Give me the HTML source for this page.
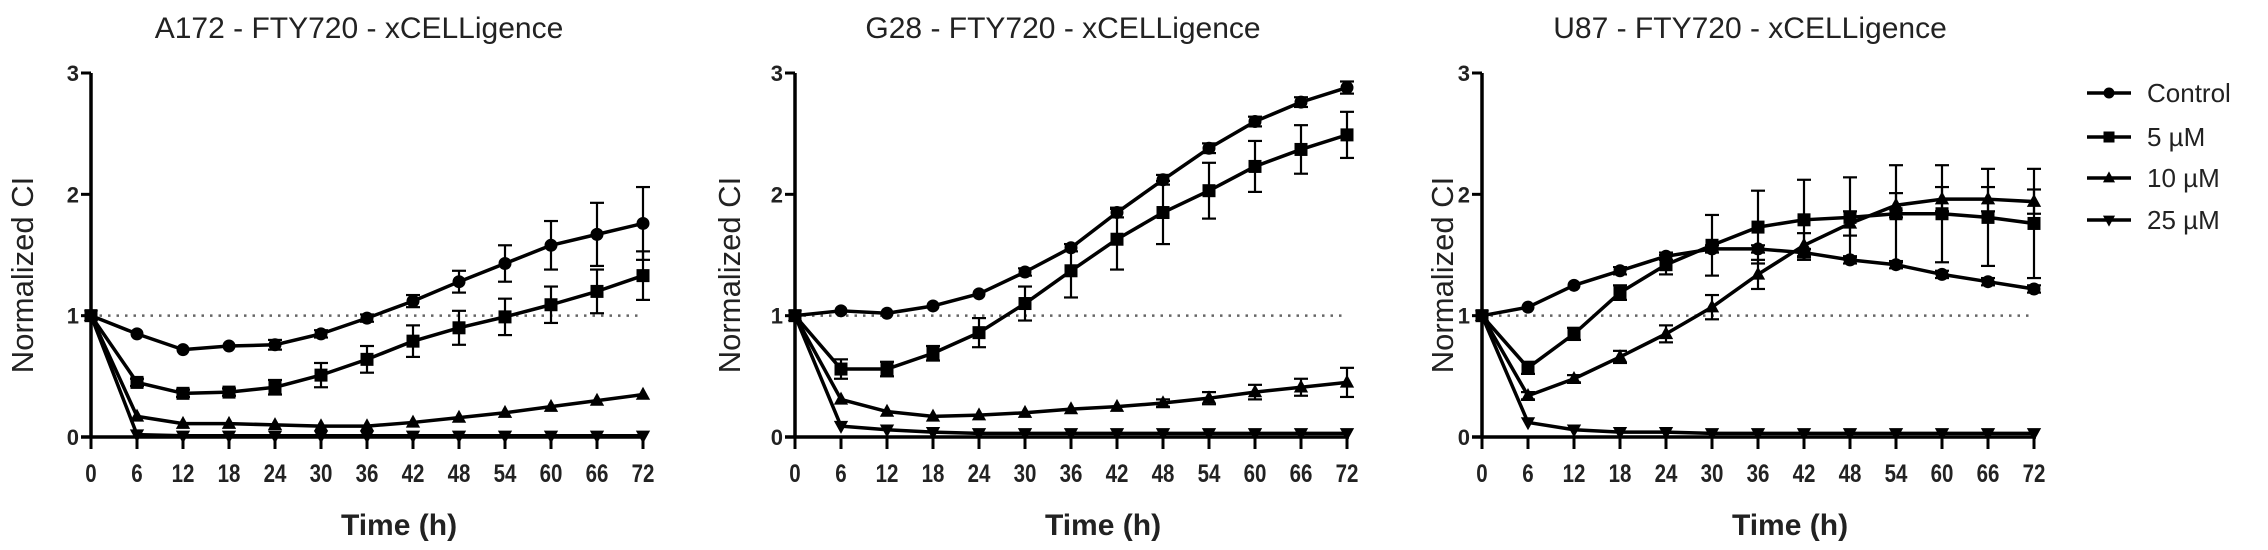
<!DOCTYPE html>
<html><head><meta charset="utf-8">
<style>
html,body{margin:0;padding:0;background:#fff;}
svg{display:block;font-family:"Liberation Sans",Arial,sans-serif;}
</style></head>
<body>
<svg id="chart" width="2268" height="550" viewBox="0 0 2268 550" xmlns="http://www.w3.org/2000/svg"></svg>
<script>
const hours = [0,6,12,18,24,30,36,42,48,54,60,66,72];
const yTicks = [0,1,2,3];
const seriesNames = ["Control","5 µM","10 µM","25 µM"];
const markerTypes = ["circle","square","triangle","invtriangle"];
const panelTitles = ["A172 - FTY720 - xCELLigence","G28 - FTY720 - xCELLigence","U87 - FTY720 - xCELLigence"];

const a172Control = [1,0.85,0.72,0.75,0.76,0.85,0.98,1.12,1.28,1.43,1.58,1.67,1.76];
const a172Control_err = [0,0.02,0.02,0.02,0.04,0.03,0.03,0.05,0.09,0.15,0.2,0.26,0.3];
const a172_5 = [1,0.45,0.36,0.37,0.41,0.51,0.64,0.79,0.90,0.99,1.09,1.20,1.33];
const a172_5_err = [0,0.03,0.03,0.03,0.06,0.1,0.11,0.13,0.14,0.15,0.15,0.18,0.2];
const a172_10 = [1,0.17,0.11,0.11,0.10,0.09,0.09,0.12,0.16,0.20,0.25,0.30,0.35];
const a172_10_err = [0,0.02,0.02,0.02,0.02,0.02,0.02,0.02,0.02,0.02,0.02,0.02,0.02];
const a172_25 = [1,0.02,0.01,0.01,0.01,0.01,0.01,0.01,0.01,0.01,0.01,0.01,0.01];
const a172_25_err = [0,0,0,0,0,0,0,0,0,0,0,0,0];

const g28Control = [1,1.04,1.02,1.08,1.18,1.36,1.56,1.85,2.12,2.38,2.60,2.76,2.88];
const g28Control_err = [0,0.02,0.02,0.02,0.02,0.03,0.03,0.04,0.04,0.04,0.04,0.04,0.05];
const g28_5 = [1,0.56,0.56,0.69,0.86,1.10,1.37,1.63,1.85,2.03,2.23,2.37,2.49];
const g28_5_err = [0,0.08,0.06,0.06,0.12,0.14,0.22,0.25,0.26,0.23,0.21,0.2,0.19];
const g28_10 = [1,0.31,0.21,0.17,0.18,0.20,0.23,0.25,0.28,0.32,0.37,0.41,0.45];
const g28_10_err = [0,0.02,0.02,0.02,0.02,0.02,0.02,0.02,0.03,0.05,0.06,0.07,0.12];
const g28_25 = [1,0.09,0.06,0.04,0.03,0.03,0.03,0.03,0.03,0.03,0.03,0.03,0.03];
const g28_25_err = [0,0.01,0.01,0.01,0.01,0.01,0.01,0.01,0.01,0.01,0.01,0.01,0.01];

const u87Control = [1,1.07,1.25,1.37,1.49,1.55,1.55,1.52,1.46,1.42,1.34,1.28,1.22];
const u87Control_err = [0,0.02,0.02,0.03,0.03,0.03,0.03,0.03,0.03,0.03,0.03,0.03,0.03];
const u87_5 = [1,0.57,0.85,1.19,1.42,1.58,1.73,1.79,1.81,1.84,1.84,1.81,1.76];
const u87_5_err = [0,0.05,0.05,0.06,0.08,0.25,0.3,0.33,0.33,0.4,0.4,0.4,0.45];
const u87_10 = [1,0.34,0.48,0.66,0.85,1.07,1.34,1.58,1.76,1.91,1.96,1.96,1.94];
const u87_10_err = [0,0.03,0.03,0.05,0.07,0.1,0.12,0.1,0.1,0.1,0.1,0.1,0.1];
const u87_25 = [1,0.12,0.06,0.04,0.04,0.03,0.03,0.03,0.03,0.03,0.03,0.03,0.03];
const u87_25_err = [0,0.01,0.01,0.01,0.01,0.01,0.01,0.01,0.01,0.01,0.01,0.01,0.01];

const panelData = [
  [[a172Control,a172Control_err],[a172_5,a172_5_err],[a172_10,a172_10_err],[a172_25,a172_25_err]],
  [[g28Control,g28Control_err],[g28_5,g28_5_err],[g28_10,g28_10_err],[g28_25,g28_25_err]],
  [[u87Control,u87Control_err],[u87_5,u87_5_err],[u87_10,u87_10_err],[u87_25,u87_25_err]]
];

const NS = "http://www.w3.org/2000/svg";
const svg = document.getElementById('chart');
function mk(tag, attrs, parent){
  const e = document.createElementNS(NS, tag);
  for (const k in attrs) e.setAttribute(k, attrs[k]);
  (parent||svg).appendChild(e);
  return e;
}
const panelX0 = [91, 795, 1482];
const panelW = 552;
const yTitleX = [25, 732, 1445];
const Y0 = 437, Y3 = 73;
function yScale(v){ return Y0 - (v/3)*(Y0-Y3); }

function marker(g, type, x, y, s){
  let el;
  if (type==="circle") el = mk('circle',{cx:x,cy:y,r:s},g);
  else if (type==="square") el = mk('rect',{x:x-s,y:y-s,width:2*s,height:2*s},g);
  else if (type==="triangle") el = mk('polygon',{points:`${x},${y-s*1.2} ${x-s*1.1},${y+s*0.8} ${x+s*1.1},${y+s*0.8}`},g);
  else el = mk('polygon',{points:`${x},${y+s*1.2} ${x-s*1.1},${y-s*0.8} ${x+s*1.1},${y-s*0.8}`},g);
  el.setAttribute('fill','#000');
  return el;
}

panelData.forEach((series, p) => {
  const x0 = panelX0[p];
  const xScale = h => x0 + h/72*panelW;
  const g = mk('g',{});
  
  

  const t = mk('text',{x:x0+panelW/2-8,y:38,'text-anchor':'middle','font-size':30,fill:'#222'},g);
  t.textContent = panelTitles[p];
  
  

  const yt = mk('text',{x:yTitleX[p],y:275,'text-anchor':'middle','font-size':31,fill:'#222',transform:`rotate(-90 ${yTitleX[p]} 275)`,'dominant-baseline':'middle'},g);
  yt.textContent = "Normalized CI";
  
  

  const xt = mk('text',{x:x0+panelW/2+32,y:535,'text-anchor':'middle','font-size':30,'font-weight':'bold',fill:'#222'},g);
  xt.textContent = "Time (h)";
  
  

  const ref = mk('line',{x1:x0,x2:xScale(72),y1:yScale(1),y2:yScale(1),stroke:'#666','stroke-width':2.5,'stroke-dasharray':'2.5 6'},g);
  
  

  const ya = mk('line',{x1:x0,x2:x0,y1:Y3,y2:Y0,stroke:'#000','stroke-width':3.5},g);
  
  
  const xa = mk('line',{x1:x0-10,x2:xScale(72)+2,y1:Y0,y2:Y0,stroke:'#000','stroke-width':3.5},g);
  
  

  yTicks.forEach(v => {
    const y = yScale(v);
    mk('line',{x1:x0-10,x2:x0,y1:y,y2:y,stroke:'#000','stroke-width':3},g);
    const tl = mk('text',{x:x0-12,y:y+8,'text-anchor':'end','font-size':22,'font-weight':'bold',fill:'#222'},g);
    tl.textContent = v;
    
    
  });
  hours.forEach(h => {
    const x = xScale(h);
    mk('line',{x1:x,x2:x,y1:Y0,y2:Y0+12,stroke:'#000','stroke-width':3},g);
    const tl = mk('text',{x:x,y:482,'text-anchor':'middle','font-size':25,'font-weight':'bold',fill:'#222',transform:`translate(${x} 0) scale(0.82 1) translate(${-x} 0)`},g);
    tl.textContent = h;
    
    
  });

  series.forEach((s, si) => {
    const vals = s[0], errs = s[1];
    const sg = mk('g',{},g);
    
    
    vals.forEach((v,i) => {
      if (errs[i] <= 0.02) return;
      const x = xScale(hours[i]);
      const yt = yScale(v+errs[i]), yb = yScale(Math.max(0,v-errs[i]));
      mk('line',{x1:x,x2:x,y1:yt,y2:yb,stroke:'#000','stroke-width':2.2},sg);
      mk('line',{x1:x-7,x2:x+7,y1:yt,y2:yt,stroke:'#000','stroke-width':2.2},sg);
      mk('line',{x1:x-7,x2:x+7,y1:yb,y2:yb,stroke:'#000','stroke-width':2.2},sg);
    });
    const pts = vals.map((v,i) => xScale(hours[i]) + ',' + yScale(v)).join(' ');
    const line = mk('polyline',{points:pts,fill:'none',stroke:'#000','stroke-width':3.5,'stroke-linejoin':'round'},sg);
    
    
    vals.forEach((v,i) => {
      const m = marker(sg, markerTypes[si], xScale(hours[i]), yScale(v), 6.5);
      
      
    });
  });
});

const lg = mk('g',{});


const legendY = [93,137,178,220];
seriesNames.forEach((n,i) => {
  const eg = mk('g',{},lg);
  
  
  mk('line',{x1:2087,x2:2131,y1:legendY[i],y2:legendY[i],stroke:'#000','stroke-width':3.5},eg);
  marker(eg, markerTypes[i], 2109, legendY[i], 5.5);
  const t = mk('text',{x:2147,y:legendY[i]+9,'font-size':26,fill:'#222'},eg);
  t.textContent = n;
});
</script>
</body></html>
